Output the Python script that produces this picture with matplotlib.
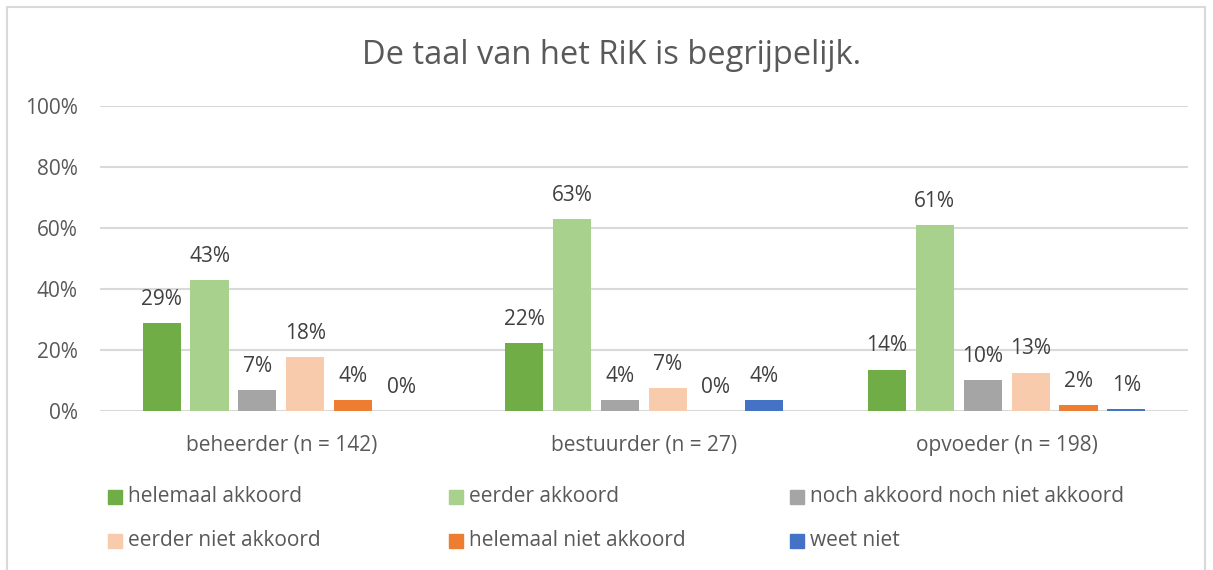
import matplotlib.pyplot as plt
import numpy as np
from matplotlib.patches import Rectangle

groups = ["beheerder (n = 142)", "bestuurder (n = 27)", "opvoeder (n = 198)"]
answers = ["helemaal akkoord", "eerder akkoord", "noch akkoord noch niet akkoord",
           "eerder niet akkoord", "helemaal niet akkoord", "weet niet"]
colors = ["#70AD47", "#A9D18E", "#A5A5A5", "#F8CBAD", "#ED7D31", "#4472C4"]

# percentage per answer, one value per group
helemaal_akkoord = [28.9, 22.2, 13.6]
eerder_akkoord = [43.0, 63.0, 61.1]
noch_noch = [7.0, 3.7, 10.1]
eerder_niet = [17.6, 7.4, 12.6]
helemaal_niet = [3.5, 0.0, 2.0]
weet_niet = [0.0, 3.7, 0.5]
series = [helemaal_akkoord, eerder_akkoord, noch_noch, eerder_niet, helemaal_niet, weet_niet]

plt.rcParams['font.family'] = ['Open Sans', 'DejaVu Sans']
txt = "#595959"
fs = 15

W, H = 1213, 570
fig = plt.figure(figsize=(W / 100, H / 100), dpi=100)
fig.patches.append(Rectangle((7 / W, -0.1), (1205 - 7) / W, 1.1 - 7 / H,
                             transform=fig.transFigure, fill=False,
                             edgecolor="#D9D9D9", lw=1.5))

ax = fig.add_axes([100 / W, (H - 411) / H, (1188 - 100) / W, (411 - 106) / H])
x = np.arange(len(groups))
stride, width = 0.132, 0.105
for i, vals in enumerate(series):
    pos = x + (i - 2.5) * stride
    ax.bar(pos, vals, width=width, color=colors[i], zorder=3)
    for px, v in zip(pos, vals):
        ax.annotate(f"{int(np.floor(v + 0.5))}%", (px, v), xytext=(0, 17),
                    textcoords="offset points", ha="center", va="center",
                    fontsize=fs, color="#404040", zorder=4)

ax.set_xlim(-0.5, 2.5)
ax.set_ylim(0, 100)
ax.set_yticks(range(0, 101, 20))
ax.set_yticklabels([f"{t}%" for t in range(0, 101, 20)])
ax.set_xticks(x)
ax.set_xticklabels(groups)
ax.grid(axis="y", color="#D9D9D9", lw=1.5, zorder=0)
for s in ax.spines.values():
    s.set_visible(False)
ax.tick_params(axis="y", length=0, pad=16, labelsize=fs, labelcolor=txt)
ax.tick_params(axis="x", length=0, pad=17, labelsize=fs, labelcolor=txt)

fig.text(612 / W, 1 - 55 / H, "De taal van het RiK is begrijpelijk.",
         ha="center", va="center", fontsize=23.5, color=txt)

# legend, three columns
for i, (lab, c) in enumerate(zip(answers, colors)):
    col, row = i % 3, i // 3
    lx = 108 + col * 341
    ly = 497 + row * 44
    fig.patches.append(Rectangle((lx / W, 1 - (ly + 7) / H), 14 / W, 14 / H,
                                 transform=fig.transFigure, color=c))
    fig.text((lx + 20) / W, 1 - ly / H, lab, ha="left", va="center",
             fontsize=fs, color=txt)

fig.savefig("out.png", dpi=100)
